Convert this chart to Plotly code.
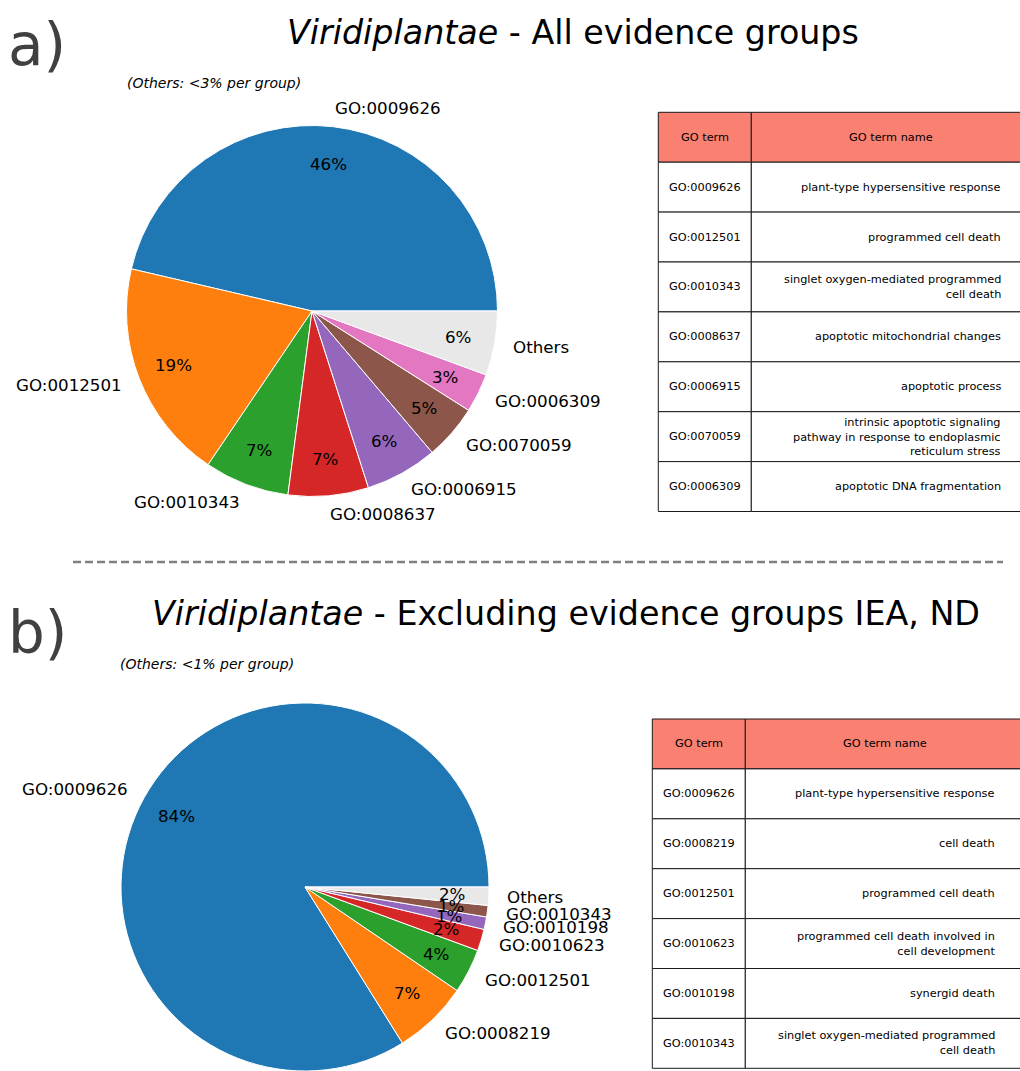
import math
import plotly.graph_objects as go

# ---- data -------------------------------------------------------------
terms_a = ["GO:0009626", "GO:0012501", "GO:0010343", "GO:0008637",
           "GO:0006915", "GO:0070059", "GO:0006309", "Others"]
share_a = [46.4, 19.2, 7.4, 7.0, 6.3, 4.8, 3.4, 5.6]

terms_b = ["GO:0009626", "GO:0008219", "GO:0012501", "GO:0010623",
           "GO:0010198", "GO:0010343", "Others"]
share_b = [83.8, 6.6, 3.9, 1.9, 1.1, 1.0, 1.6]

table_header = ["GO term", "GO term name"]

table_terms_a = ["GO:0009626", "GO:0012501", "GO:0010343", "GO:0008637",
                 "GO:0006915", "GO:0070059", "GO:0006309"]
table_names_a = ["plant-type hypersensitive response",
                 "programmed cell death",
                 "singlet oxygen-mediated programmed<br>cell death",
                 "apoptotic mitochondrial changes",
                 "apoptotic process",
                 "intrinsic apoptotic signaling<br>pathway in response to endoplasmic<br>reticulum stress",
                 "apoptotic DNA fragmentation"]

table_terms_b = ["GO:0009626", "GO:0008219", "GO:0012501", "GO:0010623",
                 "GO:0010198", "GO:0010343"]
table_names_b = ["plant-type hypersensitive response",
                 "cell death",
                 "programmed cell death",
                 "programmed cell death involved in<br>cell development",
                 "synergid death",
                 "singlet oxygen-mediated programmed<br>cell death"]

titles = ["<i>Viridiplantae</i> - All evidence groups",
          "<i>Viridiplantae</i> - Excluding evidence groups IEA, ND"]
notes = ["(Others: <3% per group)", "(Others: <1% per group)"]
panel_tags = ["a)", "b)"]

# ---- styling ----------------------------------------------------------
PALETTE = ["#1f77b4", "#ff7f0e", "#2ca02c", "#d62728",
           "#9467bd", "#8c564b", "#e377c2"]
OTHERS_COLOR = "#e8e8e8"
HEADER_COLOR = "#fa8072"
GRID_COLOR = "#1a1a1a"
FONT = "DejaVu Sans"
LABEL_SIZE = 16.7
TABLE_SIZE = 11.3
PCT_DIST = 0.8           # radius fraction for percentage labels
LABEL_DIST = 1.1         # radius fraction for term labels
AXIS_EXT = 1.5           # overlay axes reach beyond the unit circle

W, H = 1020, 1071
COL_W = [93, 280]        # table column widths (px)
ROW_H = 49.9             # table row height (px)
CELL_PAD = 0.1           # right-hand text padding as fraction of column width


def px_x(v):
    return v / W


def px_y(v):
    # pixel measured from top -> paper fraction from bottom
    return 1 - v / H


def slice_colors(terms):
    cols, i = [], 0
    for t in terms:
        if t == "Others":
            cols.append(OTHERS_COLOR)
        else:
            cols.append(PALETTE[i % len(PALETTE)])
            i += 1
    return cols


def mid_angles(values):
    """Mid-angle of every wedge (radians, counter-clockwise from 3 o'clock)."""
    total = sum(values)
    acc, out = 0.0, []
    for v in values:
        out.append((acc + v / 2) / total * 2 * math.pi)
        acc += v
    return out


fig = go.Figure()
annotations = []
shapes = []
axis_kw = dict(visible=False, fixedrange=True)

# pie geometry in pixels: centre x, centre y, radius
pie_geom = [(312.0, 311.0, 185.5), (305.0, 887.0, 184.0)]
pie_data = [(terms_a, share_a), (terms_b, share_b)]

for k, ((terms, vals), (cx, cy, rad)) in enumerate(zip(pie_data, pie_geom)):
    total = sum(vals)
    first_frac = vals[0] / total
    fig.add_trace(go.Pie(
        labels=terms, values=vals, sort=False, direction="counterclockwise",
        # first wedge starts at 3 o'clock and runs counter-clockwise
        rotation=90 - first_frac * 360,
        textinfo="none", hoverinfo="label+percent",
        marker=dict(colors=slice_colors(terms), line=dict(color="white", width=1)),
        domain=dict(x=[px_x(cx - rad), px_x(cx + rad)],
                    y=[max(0.0, px_y(cy + rad)), px_y(cy - rad)]),
        showlegend=False))

    # overlay axes where the pie is the unit circle, used to place its labels
    n = 2 * k + 1
    sfx = "" if n == 1 else str(n)
    xr, yr = f"x{sfx}", f"y{sfx}"
    y_lo = -min(AXIS_EXT, (H - cy) / rad)
    fig.layout[f"xaxis{sfx}"] = dict(
        domain=[px_x(cx - AXIS_EXT * rad), px_x(cx + AXIS_EXT * rad)],
        range=[-AXIS_EXT, AXIS_EXT], anchor=yr, **axis_kw)
    fig.layout[f"yaxis{sfx}"] = dict(
        domain=[px_y(cy - y_lo * rad), px_y(cy - AXIS_EXT * rad)],
        range=[y_lo, AXIS_EXT], anchor=xr, **axis_kw)
    fig.add_trace(go.Scatter(x=[0], y=[0], mode="markers", opacity=0,
                             xaxis=xr, yaxis=yr, hoverinfo="skip", showlegend=False))

    font = dict(family=FONT, size=LABEL_SIZE, color="black")
    for term, v, a in zip(terms, vals, mid_angles(vals)):
        ca, sa = math.cos(a), math.sin(a)
        annotations.append(dict(
            text=f"{v / total * 100:.0f}%", xref=xr, yref=yr,
            x=PCT_DIST * ca, y=PCT_DIST * sa, xanchor="center", yanchor="middle",
            font=font, borderpad=0, borderwidth=0))
        annotations.append(dict(
            text=term, xref=xr, yref=yr,
            x=LABEL_DIST * ca, y=LABEL_DIST * sa,
            xanchor="left" if ca >= 0 else "right", yanchor="middle",
            font=font, borderpad=0, borderwidth=0))


def add_table(k, terms, names, left, top):
    """Grid of cells on its own axes: x in pixels from the left edge, y in rows."""
    n = 2 * k + 2
    xr, yr = f"x{n}", f"y{n}"
    rows = [table_header] + [[t, nm] for t, nm in zip(terms, names)]
    n_rows = len(rows)
    pad_px = 2.0
    width_px = W - left
    fig.layout[f"xaxis{n}"] = dict(domain=[px_x(left - pad_px), 1.0],
                                   range=[-pad_px, width_px], anchor=yr, **axis_kw)
    pad_rows = pad_px / ROW_H
    bottom = top + n_rows * ROW_H
    fig.layout[f"yaxis{n}"] = dict(
        domain=[max(0.0, px_y(bottom + pad_px)), px_y(top - pad_px)],
        range=[n_rows + pad_rows, -pad_rows], anchor=xr, **axis_kw)
    fig.add_trace(go.Scatter(x=[0], y=[0], mode="markers", opacity=0,
                             xaxis=xr, yaxis=yr, hoverinfo="skip", showlegend=False))
    edges = [0, COL_W[0], COL_W[0] + COL_W[1]]
    font = dict(family=FONT, size=TABLE_SIZE, color="black")
    for r, row in enumerate(rows):
        for c, txt in enumerate(row):
            shapes.append(dict(
                type="rect", xref=xr, yref=yr, x0=edges[c], x1=edges[c + 1],
                y0=r, y1=r + 1, layer="below",
                fillcolor=HEADER_COLOR if r == 0 else "white",
                line=dict(color=GRID_COLOR, width=1)))
            if r == 0 or c == 0:
                x, anchor = (edges[c] + edges[c + 1]) / 2, "center"
            else:
                x, anchor = edges[c + 1] - CELL_PAD * COL_W[c], "right"
            annotations.append(dict(
                text=txt, xref=xr, yref=yr, x=x, y=r + 0.5, xanchor=anchor,
                yanchor="middle", align=anchor, font=font))


add_table(0, table_terms_a, table_names_a, 658.3, 112.3)
add_table(1, table_terms_b, table_names_b, 652.3, 719.0)

# panel tags, titles and notes
tag_y = [45, 633]
title_pos = [(572.5, 32), (565.5, 613)]
note_pos = [(125, 83), (118, 664)]
for k in range(2):
    annotations.append(dict(
        text=panel_tags[k], x=px_x(6), y=px_y(tag_y[k]), xanchor="left",
        yanchor="middle", font=dict(family=FONT, size=58, color="#404040")))
    annotations.append(dict(
        text=titles[k], x=px_x(title_pos[k][0]), y=px_y(title_pos[k][1]),
        xanchor="center", yanchor="middle",
        font=dict(family=FONT, size=33.3, color="black")))
    annotations.append(dict(
        text=f"<i>{notes[k]}</i>", x=px_x(note_pos[k][0]), y=px_y(note_pos[k][1]),
        xanchor="left", yanchor="middle",
        font=dict(family=FONT, size=14, color="black")))
for a in annotations:
    a.setdefault("xref", "paper")
    a.setdefault("yref", "paper")
    a["showarrow"] = False

# dashed separator between the two panels
shapes.append(dict(type="line", xref="paper", yref="paper",
                   x0=px_x(73), x1=px_x(1003), y0=px_y(562), y1=px_y(562),
                   line=dict(color="#808080", width=2.5, dash="8px,4px")))

fig.update_layout(
    width=W, height=H, margin=dict(l=0, r=0, t=0, b=0),
    paper_bgcolor="white", plot_bgcolor="rgba(0,0,0,0)",
    annotations=annotations, shapes=shapes,
)

fig.write_html("out.html")
